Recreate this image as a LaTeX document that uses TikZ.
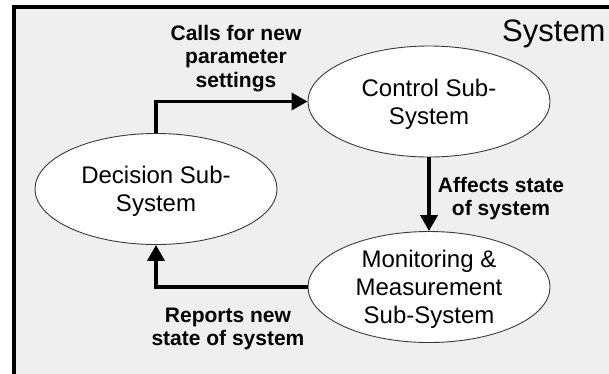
\documentclass[tikz,border=0pt]{standalone}
\usepackage{fontspec}
\setmainfont{Liberation Sans}
\usetikzlibrary{shapes.geometric,arrows.meta}
\definecolor{panelgray}{HTML}{EFEFEF}
\definecolor{rimgray}{HTML}{3A3A3A}
\tikzset{
  subsys/.style={ellipse, draw=rimgray, line width=0.9pt, fill=white,
    minimum width=242pt, minimum height=111pt, inner sep=0pt,
    align=center, text depth=0pt,
    font=\fontsize{24pt}{28pt}\selectfont},
  flowlabel/.style={align=center, inner sep=0pt, anchor=north,
    font=\bfseries\fontsize{21pt}{23.5pt}\selectfont},
  flowarrow/.style={line width=3.6pt, line join=miter,
    -{Triangle[length=16pt,width=17pt]}}
}
\begin{document}
\begin{tikzpicture}[x=1pt,y=-1pt]
\useasboundingbox (0,0) rectangle (609,373);
\clip (0,0) rectangle (609,373);
\fill[white] (0,0) rectangle (609,373);
\draw[line width=3.6pt, fill=panelgray] (13.7,6.7) rectangle (640,400);
\node[anchor=base west, inner sep=0pt, font=\fontsize{31pt}{36pt}\selectfont] (title) at (502,41) {System};
\node[subsys] (dec) at (156,189) {Decision Sub-\\System};
\node[subsys] (ctl) at (429,101.5) {Control Sub-\\System};
\node[subsys] (mon) at (429,287) {Monitoring \&\\Measurement\\Sub-System};
\draw[flowarrow] (dec.north) |- (ctl.west);
\draw[flowarrow] (ctl.south) -- (mon.north);
\draw[flowarrow] (mon.west) -| (dec.south);
\node[flowlabel] (lcalls) at (236,24.7) {Calls for new\\parameter\\settings};
\node[flowlabel] (laffects) at (501,176.7) {Affects state\\of system};
\node[flowlabel] (lreports) at (228,307.7) {Reports new\\state of system};
\end{tikzpicture}
\end{document}
